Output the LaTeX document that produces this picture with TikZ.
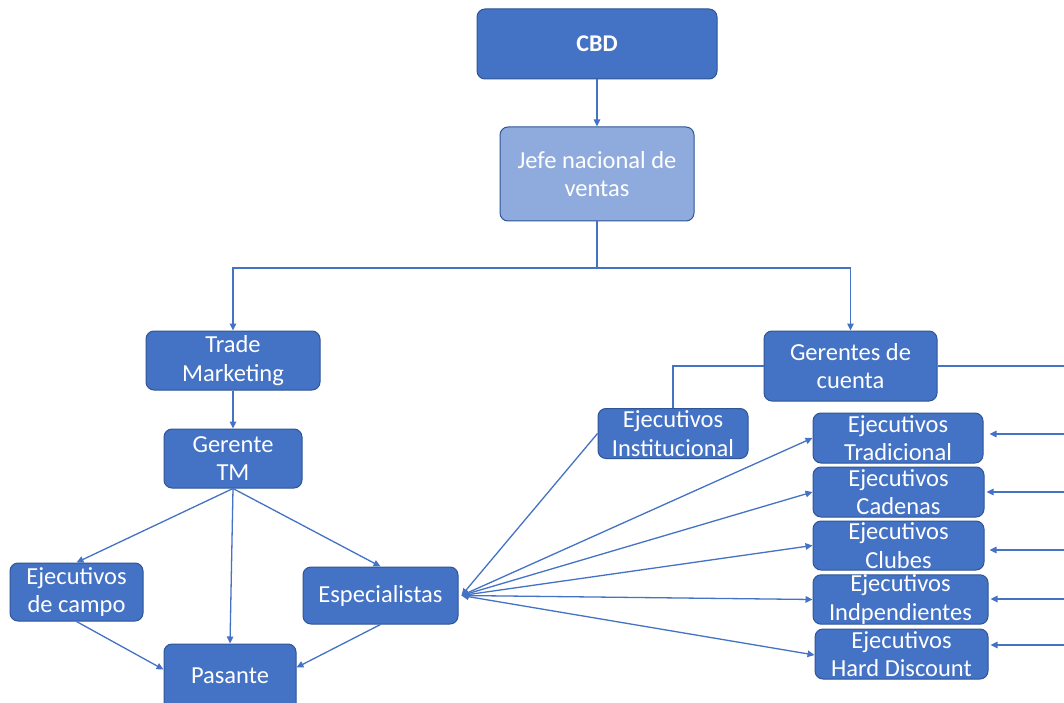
\documentclass[tikz,border=0pt]{standalone}
\usepackage{fontspec}
\setmainfont{Carlito}
\usetikzlibrary{arrows.meta,calc}
\definecolor{boxblue}{HTML}{4472C4}
\definecolor{boxlight}{HTML}{8FAADC}
\definecolor{boxborder}{HTML}{2F5597}
\definecolor{linecol}{HTML}{4472C4}
\begin{document}
\begin{tikzpicture}[x=1pt,y=-1pt,
  box/.style={draw=boxborder, line width=1pt, fill=boxblue, rounded corners=8pt, text=white,
    align=center, inner sep=0pt, font=\fontsize{24.5}{28.5}\selectfont},
  conn/.style={draw=linecol, line width=1.3pt, -{Triangle[length=7pt,width=6.5pt]}},
  plain/.style={draw=linecol, line width=1.3pt},
  both/.style={draw=linecol, line width=1.3pt, {Triangle[length=7pt,width=6.5pt]}-{Triangle[length=7pt,width=6.5pt]}}
]
\clip (0,0) rectangle (1064,703);
\fill[white] (0,0) rectangle (1064,703);

\node[box, minimum width=240pt, minimum height=70pt, font=\fontsize{24}{28}\selectfont\bfseries] (cbd) at (597,44) {CBD};
\node[box, fill=boxlight, minimum width=194pt, minimum height=94pt] (jefe) at (597,174) {Jefe nacional de\\ventas};
\node[box, minimum width=174pt, minimum height=59pt] (tm) at (233,360.5) {Trade\\Marketing};
\node[box, minimum width=138pt, minimum height=59pt] (gtm) at (233,458.5) {Gerente\\TM};
\node[box, minimum width=133pt, minimum height=58pt] (campo) at (76.5,592) {Ejecutivos\\de campo};
\node[box, minimum width=155pt, minimum height=57pt] (esp) at (380.5,595.5) {Especialistas};
\node[box, minimum width=132pt, minimum height=80pt, text depth=0pt] (pas) at (230,684) {\raisebox{16pt}{Pasante}};
\node[box, minimum width=173pt, minimum height=70pt] (gc) at (850.5,366) {Gerentes de\\cuenta};
\node[box, minimum width=150pt, minimum height=50pt] (inst) at (673,433.5) {Ejecutivos\\Institucional};
\node[box, minimum width=170pt, minimum height=50pt] (trad) at (898,438) {Ejecutivos\\Tradicional};
\node[box, minimum width=171pt, minimum height=50pt] (cad) at (898.5,492) {Ejecutivos\\Cadenas};
\node[box, minimum width=171pt, minimum height=49pt] (clu) at (898.5,545.5) {Ejecutivos\\Clubes};
\node[box, minimum width=175pt, minimum height=49pt] (ind) at (900.5,599.5) {Ejecutivos\\Indpendientes};
\node[box, minimum width=173pt, minimum height=50pt] (hd) at (901.5,654) {Ejecutivos\\Hard Discount};

\coordinate (j1) at (597,268);
\coordinate (gcr) at (1064,366);
\coordinate (rtrad) at (1064,434);
\coordinate (rcad) at (1064,492);
\coordinate (rclu) at (1064,550);
\coordinate (rind) at (1064,599);
\coordinate (rhd) at (1064,645);

\draw[conn] (cbd.south) -- (jefe.north);
\draw[plain] (jefe.south) -- (j1);
\draw[conn] (j1) -| (tm.north);
\draw[conn] (j1) -| (gc.north);
\draw[conn] (tm.south) -- (gtm.north);
\draw[conn] (gtm.south) -- (campo.north);
\draw[conn] (gtm.south) -- (esp.north);
\draw[conn] (gtm.south) -- (pas.north);
\draw[conn] (campo.south) -- ([yshift=-26pt]pas.north west);
\draw[conn] (esp.south) -- ([yshift=-24pt]pas.north east);

\draw[plain] (gc.west) -| (inst.north);
\draw[plain] (gc.east) -- (gcr);
\draw[conn] (inst.west) -- ([xshift=3pt]esp.east);
\draw[both] ([xshift=3pt]esp.east) -- (trad.west);
\draw[both] ([xshift=3pt]esp.east) -- (cad.west);
\draw[both] ([xshift=3pt]esp.east) -- (clu.west);
\draw[both] ([xshift=3pt]esp.east) -- (ind.west);
\draw[both] ([xshift=3pt]esp.east) -- ([yshift=-1pt]hd.west);

\draw[conn, shorten >=6pt] (rtrad) -- (rtrad -| trad.east);
\draw[conn, shorten >=2pt] (rcad) -- (rcad -| cad.east);
\draw[conn, shorten >=5pt] (rclu) -- (rclu -| clu.east);
\draw[conn, shorten >=2pt] (rind) -- (rind -| ind.east);
\draw[conn, shorten >=2pt] (rhd) -- (rhd -| hd.east);
\end{tikzpicture}
\end{document}
